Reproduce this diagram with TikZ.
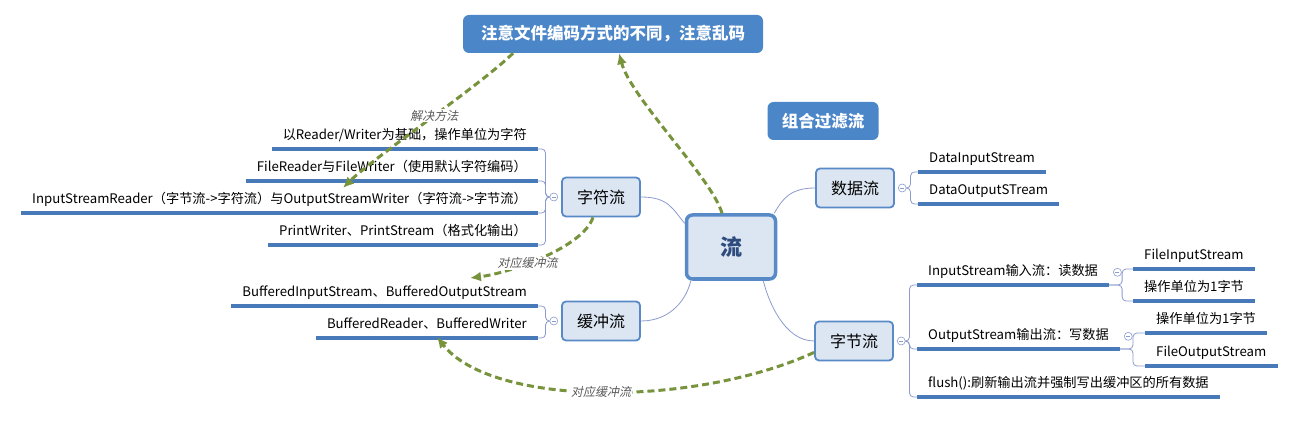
\documentclass[tikz,border=0pt]{standalone}
\usepackage{fontspec}
\setmainfont{Noto Sans CJK SC}
\newfontfamily\cjkit[FakeSlant=0.2]{Noto Sans CJK SC}
\usetikzlibrary{arrows.meta,positioning}

\definecolor{topfill}{RGB}{220,230,242}
\definecolor{topline}{RGB}{88,138,200}
\definecolor{calfill}{RGB}{75,134,200}
\definecolor{uline}{RGB}{72,122,186}
\definecolor{limbc}{RGB}{140,155,205}
\definecolor{relc}{RGB}{119,147,60}
\definecolor{rootc}{RGB}{45,75,125}

\begin{document}
\begin{tikzpicture}[
  x=1pt, y=-1pt,
  root/.style={draw=topline,line width=3.5pt,rounded corners=6pt,fill=topfill,
               minimum width=89pt,minimum height=64pt,
               font=\fontsize{22}{24}\selectfont\bfseries,text=rootc},
  topic/.style={draw=topline,line width=1.8pt,rounded corners=4pt,fill=topfill,
                minimum width=78pt,minimum height=39pt,font=\fontsize{16}{18}\selectfont},
  callout/.style={fill=calfill,rounded corners=6pt,text=white,minimum height=38pt,
                  inner xsep=12pt,font=\fontsize{16.5}{18}\selectfont\bfseries},
  leaf/.style={inner xsep=11pt,inner ysep=6pt,text height=10pt,text depth=3pt,
               font=\fontsize{13.2}{15}\selectfont},
  fold/.style={circle,draw=limbc,fill=white,line width=0.6pt,minimum size=8pt,inner sep=0pt,
               path picture={\draw[limbc,line width=0.6pt]
                 ([xshift=2pt]path picture bounding box.west) --
                 ([xshift=-2pt]path picture bounding box.east);}},
  uln/.style={draw=uline,line width=3.2pt},
  limb/.style={draw=limbc,line width=0.8pt},
  twig/.style={draw=limbc,line width=0.8pt,rounded corners=4pt},
  rel/.style={draw=relc,line width=3pt,dash pattern=on 7pt off 4pt,
              -{Latex[length=11pt,width=10pt]}},
  rlbl/.style={font=\cjkit\fontsize{12}{14}\selectfont,text=black!65,fill=white,inner sep=1pt}
]
\fill[white] (0,0) rectangle (1295,446);
\useasboundingbox (0,0) rectangle (1295,446);

% main topics
\node[root] (root) at (731,247) {流};
\node[callout,minimum width=300pt] (note) at (613,34) {注意文件编码方式的不同，注意乱码};
\node[callout,minimum width=111pt] (combo) at (823,121) {组合过滤流};
\node[topic] (chr) at (601,197) {字符流};
\node[topic] (buf) at (601,321) {缓冲流};
\node[topic] (dat) at (855,188) {数据流};
\node[topic] (byt) at (854,341) {字节流};

\node[fold,left=3pt of chr] (chrf) {};
\node[fold,left=3pt of buf] (buff) {};
\node[fold,right=3pt of dat] (datf) {};
\node[fold,right=3pt of byt] (bytf) {};

% leaves, left side
\node[leaf,anchor=south east] (c1) at (538,149) {以Reader/Writer为基础，操作单位为字符};
\node[leaf,anchor=south east] (c2) at (538,181) {FileReader与FileWriter（使用默认字符编码）};
\node[leaf,anchor=south east] (c3) at (538,213) {InputStreamReader（字节流->字符流）与OutputStreamWriter（字符流->字节流）};
\node[leaf,anchor=south east] (c4) at (538,245) {PrintWriter、PrintStream（格式化输出）};
\node[leaf,anchor=south east] (b1) at (538,306) {BufferedInputStream、BufferedOutputStream};
\node[leaf,anchor=south east] (b2) at (538,338) {BufferedReader、BufferedWriter};

% leaves, right side
\node[leaf,anchor=south west] (d1) at (918,172) {DataInputStream};
\node[leaf,anchor=south west] (d2) at (918,204) {DataOutputSTream};
\node[leaf,anchor=south west] (ins) at (917,285) {InputStream输入流：读数据};
\node[leaf,anchor=south west] (outs) at (917,349) {OutputStream输出流：写数据};
\node[leaf,anchor=south west] (fl) at (917,397) {flush():刷新输出流并强制写出缓冲区的所有数据};
\node[fold,right=4pt of ins] (insf) {};
\node[fold,right=4pt of outs] (outsf) {};
\node[leaf,anchor=south west] (fis) at (1133,269) {FileInputStream};
\node[leaf,anchor=south west] (op1) at (1133,301) {操作单位为1字节};
\node[leaf,anchor=south west] (op2) at (1145,333) {操作单位为1字节};
\node[leaf,anchor=south west] (fos) at (1145,366) {FileOutputStream};

\foreach \n in {c1,c2,c3,c4,b1,b2,d1,d2,ins,outs,fl,fis,op1,op2,fos}
  \draw[uln] (\n.south west) -- (\n.south east);

% branches
\draw[limb] (chr.east) .. controls +(28,0) and +(-12,-14) .. (root.153);
\draw[limb] (buf.east) .. controls +(30,0) and +(-4,18) .. ([xshift=6pt]root.south west);
\draw[limb] (dat.west) .. controls +(-25,0) and +(8,-14) .. ([xshift=-3pt]root.north east);
\draw[limb] (byt.west) .. controls +(-30,0) and +(5,20) .. ([xshift=-14pt]root.south east);

\foreach \n in {c1,c2,c3,c4}
  \draw[twig] (chrf.west) -- ++(-4,0) |- (\n.south east);
\foreach \n in {b1,b2}
  \draw[twig] (buff.west) -- ++(-4,0) |- (\n.south east);
\foreach \n in {d1,d2}
  \draw[twig] (datf.east) -- ++(4,0) |- (\n.south west);
\foreach \n in {ins,outs,fl}
  \draw[twig] (bytf.east) -- ++(4,0) |- (\n.south west);
\foreach \n in {fis,op1}
  \draw[twig] (ins.south east) -- ++(13,0) |- (\n.south west);
\foreach \n in {op2,fos}
  \draw[twig] (outs.south east) -- ++(13,0) |- (\n.south west);

% relations
\coordinate (hit1) at (343,188);
\coordinate (hit2) at (470,278);
\coordinate (hit3) at (437,337);
\draw[rel] ([xshift=-100pt]note.south) .. controls +(-30,30) and +(30,-30)
  .. node[rlbl,pos=0.47] {解决方法} (hit1);
\draw[rel] ([xshift=-9pt]root.north) .. controls +(-10,-35) and +(12,45) .. ([xshift=6pt]note.south);
\draw[rel] ([xshift=-8pt]chr.south) .. controls +(-10,30) and +(40,-5)
  .. node[rlbl,pos=0.6] {对应缓冲流} (hit2);
\draw[rel] ([yshift=9pt]byt.south west) .. controls +(-120,55) and +(55,70)
  .. node[rlbl,pos=0.5] {对应缓冲流} (hit3);
\end{tikzpicture}
\end{document}
